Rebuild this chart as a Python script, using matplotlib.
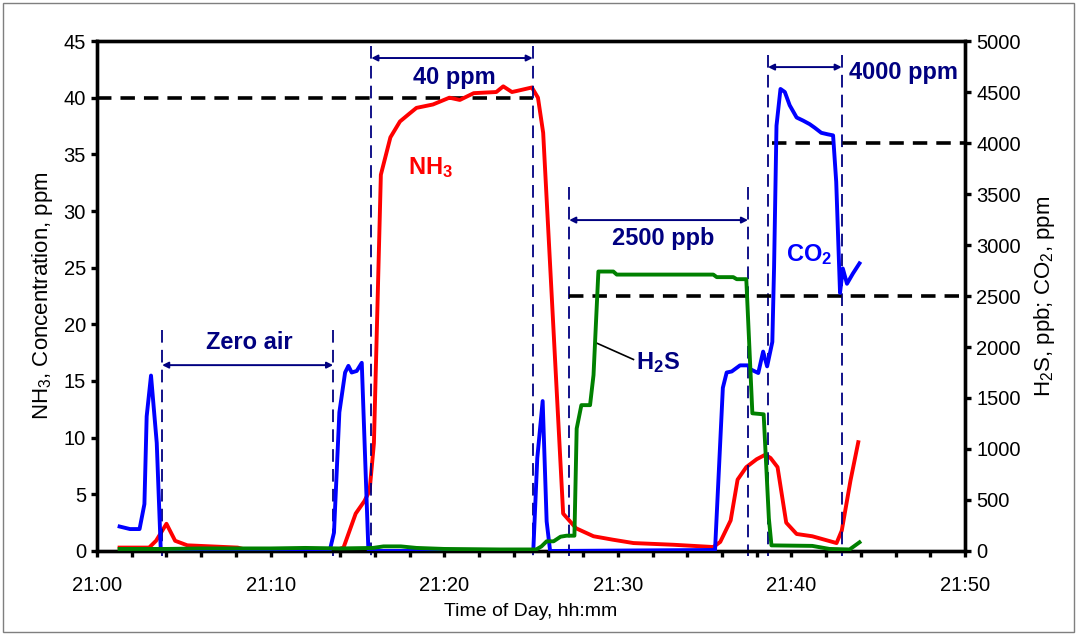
import numpy as np
import matplotlib.pyplot as plt
from matplotlib.patches import Rectangle
from matplotlib.ticker import MultipleLocator, FuncFormatter

plt.rcParams['font.family'] = ['Liberation Sans', 'DejaVu Sans']
plt.rcParams['mathtext.default'] = 'regular'

# Время в минутах после 21:00
nh3_t = [1.3, 3.0, 3.4, 4.0, 4.5, 5.2, 8.1, 8.6, 13.8, 14.2, 14.9, 15.4, 15.7, 15.95,
         16.35, 16.9, 17.45, 18.0, 18.4, 19.35, 20.3, 20.9, 21.7, 23.0, 23.4, 23.9,
         24.2, 25.05, 25.4, 25.7, 26.85, 27.6, 28.6, 29.7, 30.9, 33.2, 35.5, 35.9,
         36.5, 36.9, 37.4, 38.0, 38.5, 38.8, 39.2, 39.7, 40.3, 41.2, 42.6, 42.9,
         43.4, 43.85]
nh3_ppm = [0.3, 0.3, 0.9, 2.4, 0.9, 0.5, 0.3, 0.1, 0.1, 0.3, 3.3, 4.4, 5.3, 9.5,
           33.2, 36.5, 37.9, 38.6, 39.1, 39.4, 40.0, 39.8, 40.4, 40.5, 41.0, 40.5,
           40.6, 40.9, 40.0, 36.9, 3.3, 2.0, 1.3, 1.0, 0.7, 0.55, 0.35, 0.8,
           2.7, 6.3, 7.4, 8.1, 8.5, 8.2, 7.4, 2.5, 1.5, 1.3, 0.7, 1.8,
           6.2, 9.6]

co2_t = [1.3, 1.9, 2.45, 2.73, 2.86, 3.11, 3.44, 3.67, 4.0, 13.4, 13.65, 13.96,
         14.29, 14.48, 14.67, 14.96, 15.25, 15.63, 15.9, 25.13, 25.36, 25.67, 25.9,
         26.1, 35.6, 36.05, 36.27, 36.56, 37.04, 37.5, 37.6, 38.09, 38.37, 38.6,
         38.9, 39.0, 39.14, 39.37, 39.62, 39.9, 40.3, 40.67, 41.05, 41.34, 41.72,
         42.1, 42.4, 42.58, 42.8, 42.96, 43.2, 43.54, 43.92]
co2_ppm = [240, 215, 215, 460, 1320, 1720, 1060, 20, 0, 0, 180, 1360,
           1750, 1815, 1750, 1765, 1845, 15, 0, 0, 910, 1470, 290,
           0, 10, 1600, 1750, 1760, 1820, 1820, 1785, 1745, 1955, 1810,
           2050, 2780, 4170, 4530, 4500, 4370, 4250, 4220, 4185, 4150, 4100,
           4085, 4075, 3620, 2530, 2770, 2620, 2720, 2820]

h2s_t = [1.3, 4.0, 6.0, 10.0, 12.0, 14.0, 15.9, 16.5, 17.5, 18.4, 20.0, 23.2, 25.3,
         25.6, 25.9, 26.3, 26.7, 27.05, 27.5, 27.63, 27.9, 28.4, 28.6, 28.88, 29.74,
         29.94, 35.5, 35.7, 36.65, 36.85, 37.4, 37.75, 38.4, 38.7, 38.85, 41.2, 42.2,
         43.35, 43.92]
h2s_ppb = [20, 20, 25, 25, 30, 25, 30, 45, 45, 30, 20, 15, 15,
           45, 95, 95, 140, 150, 150, 1200, 1430, 1430, 1725, 2740, 2740,
           2710, 2710, 2685, 2685, 2665, 2665, 1350, 1340, 320, 55, 50, 20,
           15, 85]

tick_labels = ['21:00', '21:10', '21:20', '21:30', '21:40', '21:50']

navy = '#000080'

fig = plt.figure(figsize=(10.78, 6.35), dpi=100)
fig.patches.append(Rectangle((0.003, 0.005), 0.993, 0.99, transform=fig.transFigure,
                             fill=False, ec='#7f7f7f', lw=1))
ax = fig.add_axes([0.09, 0.1323, 0.8052, 0.8031])
ax2 = ax.twinx()

ax.plot(nh3_t, nh3_ppm, color='#ff0000', lw=2.8, zorder=3)
ax2.plot(co2_t, co2_ppm, color='#0000ff', lw=2.8, zorder=3)
ax2.plot(h2s_t, h2s_ppb, color='#008000', lw=2.8, zorder=4)

ax.set_xlim(0, 50)
ax.set_ylim(0, 45)
ax2.set_ylim(0, 5000)
ax.xaxis.set_major_locator(MultipleLocator(2))
ax.xaxis.set_major_formatter(FuncFormatter(
    lambda v, p: tick_labels[int(round(v)) // 10] if int(round(v)) % 10 == 0 else ''))
ax.yaxis.set_major_locator(MultipleLocator(5))
ax2.yaxis.set_major_locator(MultipleLocator(500))

for a in (ax, ax2):
    for s in a.spines.values():
        s.set_linewidth(2.4)
    a.tick_params(direction='out', length=4, width=2.4, labelsize=14.5, pad=4)
ax.tick_params(axis='x', pad=14)

ax.set_xlabel('Time of Day, hh:mm', fontsize=14, labelpad=6)
ax.set_ylabel('NH$_3$, Concentration, ppm', fontsize=16, labelpad=6)
ax2.set_ylabel('H$_2$S, ppb; CO$_2$, ppm', fontsize=16, labelpad=8)

# Горизонтальные уровни калибровки
ax.plot([0, 25.1], [40, 40], color='black', lw=2.6, ls=(0, (4, 2.5)), zorder=2)
ax2.plot([27.2, 50], [2500, 2500], color='black', lw=2.6, ls=(0, (4, 2.5)), zorder=2)
ax2.plot([38.9, 50], [4000, 4000], color='black', lw=2.6, ls=(0, (4, 2.5)), zorder=2)

# Интервалы подачи газов
spans = [(3.75, 13.6, 19.5, 16.4), (15.8, 25.1, 44.6, 43.5),
         (27.2, 37.5, 32.1, 29.2), (38.65, 42.9, 43.8, 42.7)]
for t1, t2, ytop, yarr in spans:
    for t in (t1, t2):
        ax.plot([t, t], [ytop, -0.4], color=navy, lw=1.3, ls=(0, (7, 4)),
                clip_on=False, zorder=5)
    ax.annotate('', xy=(t2, yarr), xytext=(t1, yarr),
                arrowprops=dict(arrowstyle='<|-|>', color=navy, lw=1.4,
                                mutation_scale=9, shrinkA=0, shrinkB=0), zorder=5)

bold = dict(fontsize=17, fontweight='bold', va='center')
ax.text(8.8, 18.4, 'Zero air', color=navy, ha='center', **bold)
ax.text(20.6, 41.8, '40 ppm', color=navy, ha='center', **bold)
ax.text(32.6, 27.6, '2500 ppb', color=navy, ha='center', **bold)
ax.text(43.3, 42.2, '4000 ppm', color=navy, ha='left', **bold)
ax.text(19.2, 33.8, 'NH$_3$', color='#ff0000', ha='center', **bold)
ax.text(41.0, 26.2, 'CO$_2$', color='#0000ff', ha='center', **bold)
ax.text(32.3, 16.6, 'H$_2$S', color=navy, ha='center', **bold)
ax.plot([28.7, 30.9], [18.4, 16.9], color='black', lw=1.2, zorder=6)

fig.savefig('out.png', dpi=100)
